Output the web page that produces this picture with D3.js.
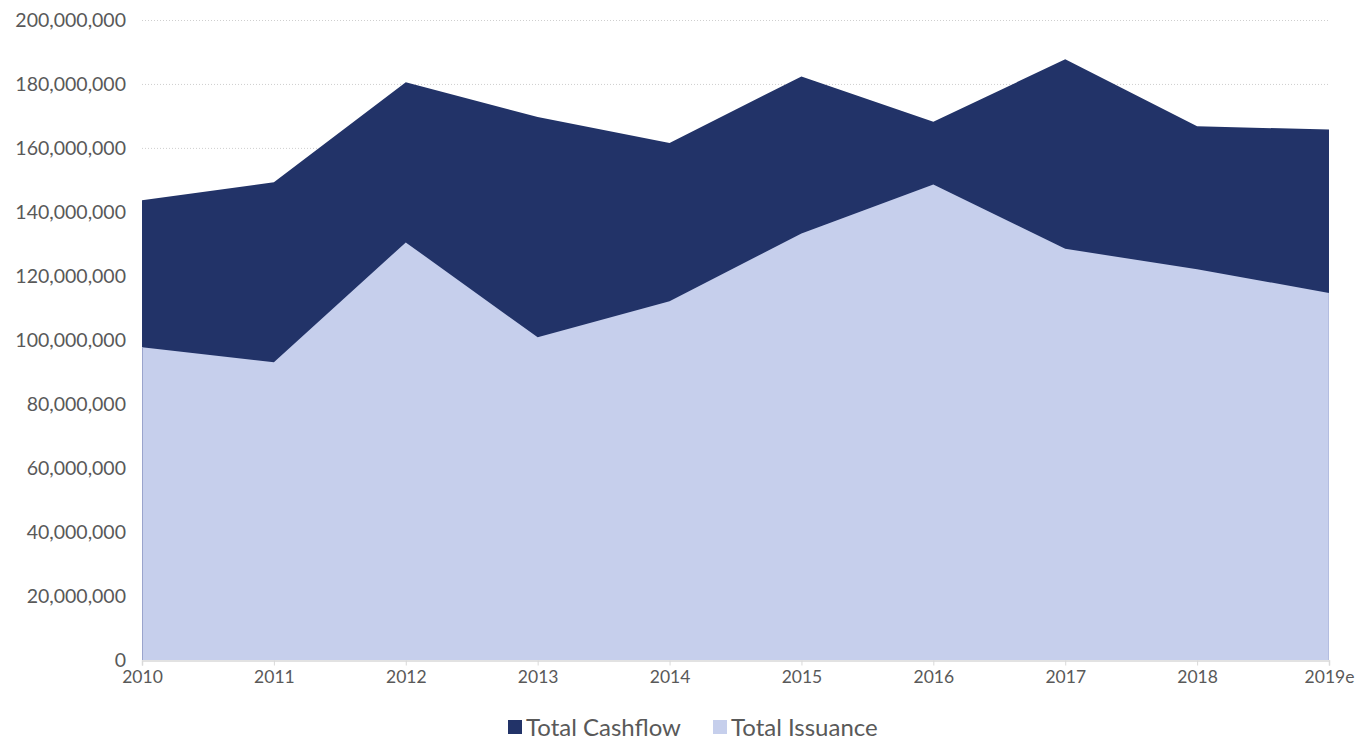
<!DOCTYPE html>
<html>
<head>
<meta charset="utf-8">
<script src="https://cdn.jsdelivr.net/npm/d3@7"></script>
<style>
  body { margin: 0; background: #fff; }
  text { font-family: Lato, "Open Sans", sans-serif; fill: #595959; }
</style>
</head>
<body>
<div id="plot"></div>
<script>
var years = ["2010", "2011", "2012", "2013", "2014", "2015", "2016", "2017", "2018", "2019e"];
var totalCashflow = [143800000, 149400000, 180700000, 169800000, 161700000, 182500000, 168300000, 187900000, 166900000, 165900000];
var totalIssuance = [97800000, 93100000, 130600000, 100900000, 112200000, 133400000, 148700000, 128600000, 122200000, 114800000];
var yTicks = [0, 20000000, 40000000, 60000000, 80000000, 100000000, 120000000, 140000000, 160000000, 180000000, 200000000];

var margin = {top: 20.5, right: 38, bottom: 82, left: 142},
    width = 1367 - margin.left - margin.right,
    height = 742 - margin.top - margin.bottom;

var svg = d3.select("#plot")
  .append("svg")
    .attr("width", 1367)
    .attr("height", 742)
  .append("g")
    .attr("transform", "translate(" + margin.left + "," + margin.top + ")");

var x = d3.scalePoint()
    .domain(years)
    .range([0, width]);

var y = d3.scaleLinear()
    .domain([0, 200000000])
    .range([height, 0]);

// gridlines
svg.selectAll(".grid")
    .data(yTicks.slice(1))
    .enter()
    .append("line")
      .attr("x1", 0)
      .attr("x2", width)
      .attr("y1", function(d) { return y(d); })
      .attr("y2", function(d) { return y(d); })
      .style("stroke", "#cfcfcf")
      .style("stroke-width", 1)
      .style("stroke-dasharray", "1,2");

var area = function(vals) {
  return d3.area()
    .x(function(d, i) { return x(years[i]); })
    .y0(height)
    .y1(function(d) { return y(d); })(vals);
};

svg.append("path")
    .attr("d", area(totalCashflow))
    .style("fill", "#223368");

svg.append("path")
    .attr("d", area(totalIssuance))
    .style("fill", "#c6cfec");

// thin edges on the sides
svg.append("line")
    .attr("x1", 0.5).attr("x2", 0.5)
    .attr("y1", y(totalIssuance[0])).attr("y2", height)
    .style("stroke", "#9aa4cc");
svg.append("line")
    .attr("x1", width - 0.5).attr("x2", width - 0.5)
    .attr("y1", y(totalIssuance[years.length - 1])).attr("y2", height)
    .style("stroke", "#b3bde0");

// x axis
var xAxis = svg.append("g")
    .attr("transform", "translate(0," + (height + 0.5) + ")")
    .call(d3.axisBottom(x).tickSize(5).tickPadding(5));
xAxis.select(".domain").style("stroke", "#d9d9d9").style("stroke-width", 1.5);
xAxis.selectAll(".tick line").style("stroke", "#d9d9d9");
xAxis.selectAll("text")
    .style("font-size", "17.5px")
    .style("fill", "#595959")
    .style("font-family", "Lato, sans-serif");

// y labels
svg.selectAll(".ylab")
    .data(yTicks)
    .enter()
    .append("text")
      .attr("x", -16)
      .attr("y", function(d) { return y(d); })
      .attr("dy", "0.35em")
      .attr("text-anchor", "end")
      .style("font-size", "19.5px")
      .text(function(d) { return d3.format(",")(d); });

// legend
var legend = [
  {name: "Total Cashflow", color: "#223368", x: 508},
  {name: "Total Issuance", color: "#c6cfec", x: 713}
];
var lg = d3.select("svg").selectAll(".legend")
    .data(legend)
    .enter()
    .append("g")
      .attr("transform", function(d) { return "translate(" + d.x + ",720)"; });
lg.append("rect")
    .attr("width", 14)
    .attr("height", 14)
    .style("fill", function(d) { return d.color; });
lg.append("text")
    .attr("x", 18)
    .attr("y", 7)
    .attr("dy", "0.38em")
    .style("font-size", "24px")
    .text(function(d) { return d.name; });
</script>
</body>
</html>
